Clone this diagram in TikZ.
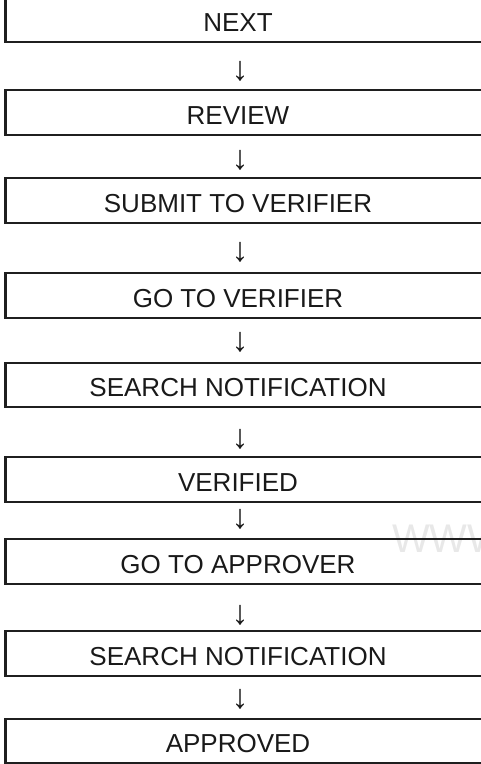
\documentclass[tikz,border=0pt]{standalone}
\usepackage{fontspec}
\setmainfont{Liberation Sans}
\begin{document}
\begin{tikzpicture}[x=1pt,y=-1pt,
  box/.style={draw=black!88, line width=2.6pt, rectangle, inner sep=0pt, minimum width=500pt, minimum height=45pt, anchor=west},
  lbl/.style={font=\fontsize{26}{30}\selectfont, text=black!90, anchor=base, inner sep=0pt},
  arr/.style={font=\fontsize{34}{38}\selectfont, text=black!90, inner sep=0pt}]
\useasboundingbox (0,0) rectangle (481,764);
\clip (0,0) rectangle (481,764);
% watermark
\node[anchor=base west, inner sep=0pt, text=black!9, font=\fontsize{40}{44}\selectfont] (wm) at (392,552) {WWW};
% boxes (top, bottom)
\foreach \n/\t/\b in {1/-3/42, 2/90/135, 3/178/223, 4/273/318, 5/363/407, 6/457/502, 7/539/584, 8/631/676, 9/719/763}{
  \node[box, minimum height={\b-\t}] (b\n) at (4,{(\t+\b)/2}) {};
}
\node[lbl] (t1) at (238,31) {NEXT};
\node[lbl] (t2) at (238,124.5) {REVIEW};
\node[lbl] (t3) at (238,212.5) {SUBMIT TO VERIFIER};
\node[lbl] (t4) at (238,307.5) {GO TO VERIFIER};
\node[lbl] (t5) at (238,396.5) {SEARCH NOTIFICATION};
\node[lbl] (t6) at (238,491.5) {VERIFIED};
\node[lbl] (t7) at (238,573.5) {GO TO APPROVER};
\node[lbl] (t8) at (238,665.5) {SEARCH NOTIFICATION};
\node[lbl] (t9) at (238,752.5) {APPROVED};
% arrows
\foreach \k/\y in {1/71, 2/160, 3/252, 4/342, 5/439, 6/519, 7/615, 8/699}{
  \node[arr] (a\k) at (240,\y) {↓};
}
\end{tikzpicture}
\end{document}
